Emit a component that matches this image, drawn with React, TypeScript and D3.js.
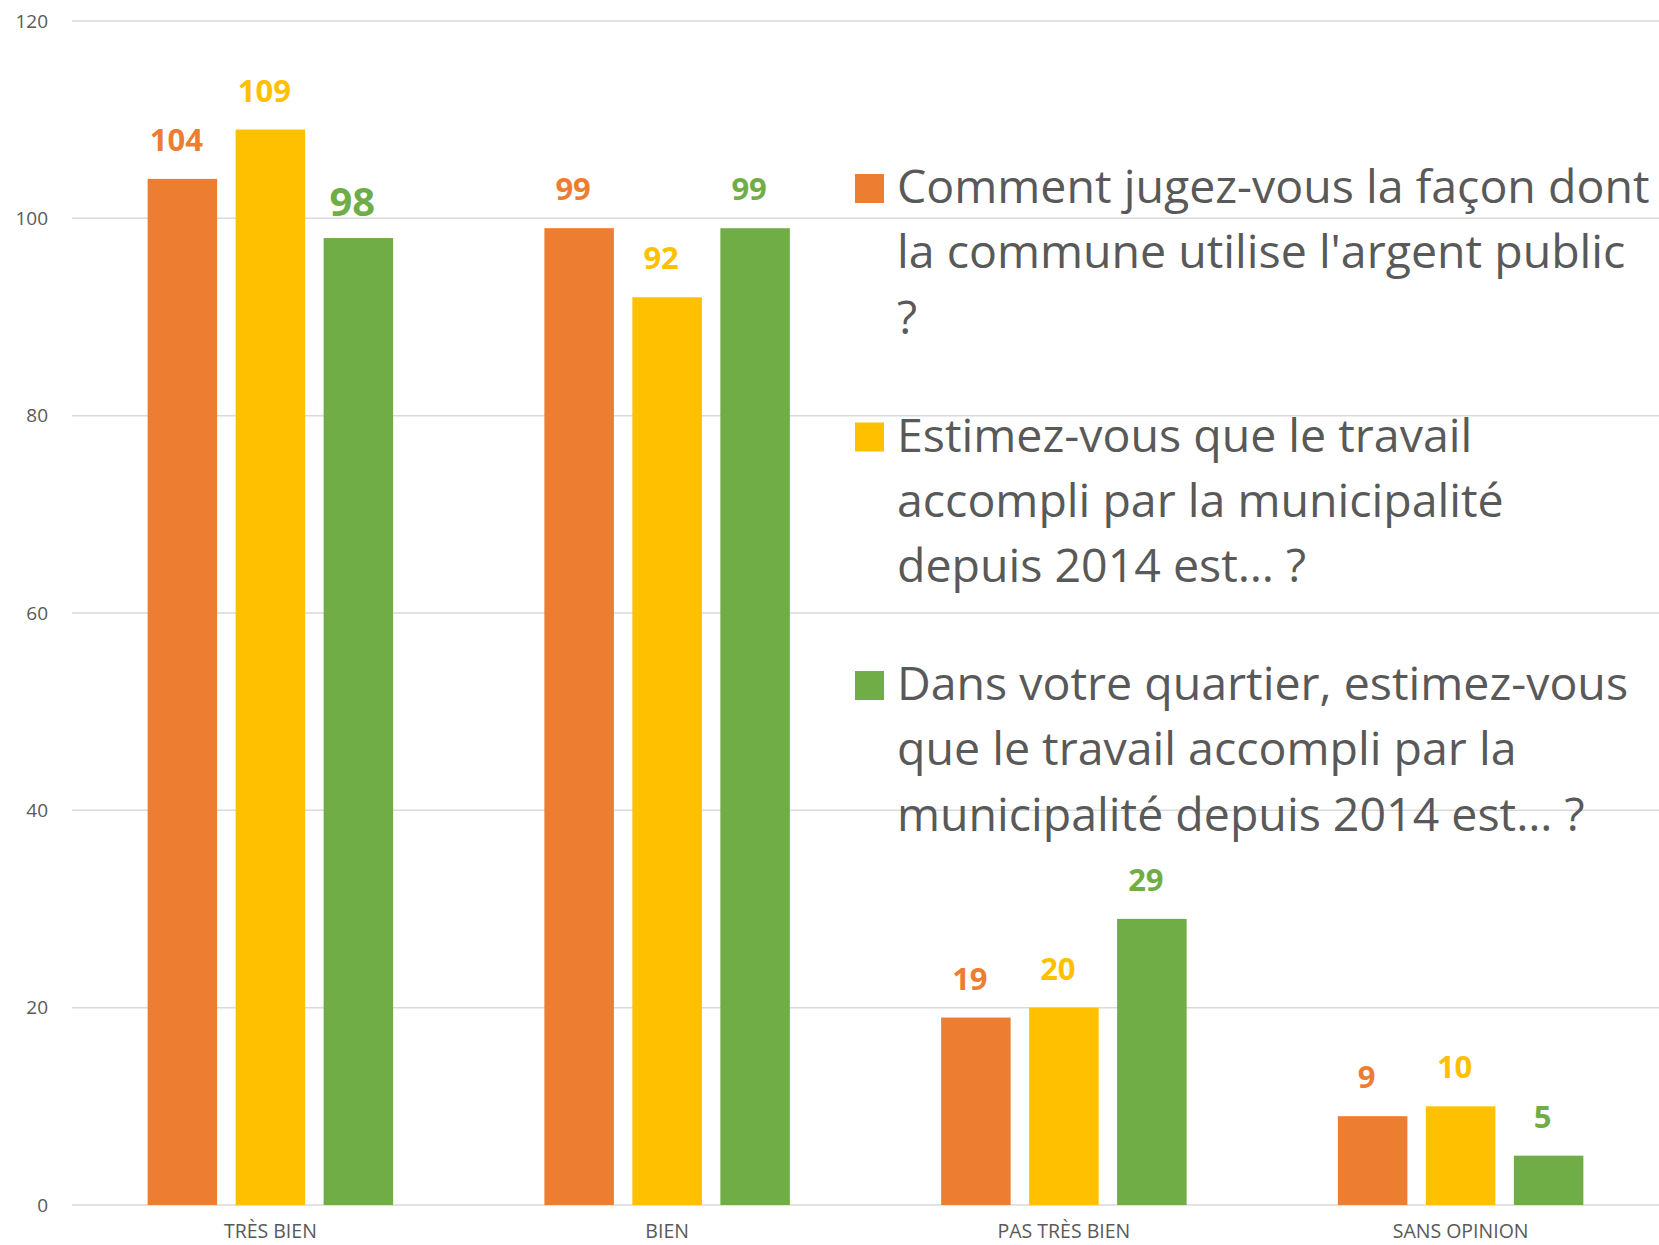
import React from "react";
import * as d3 from "d3";

const categories = ["TRÈS BIEN", "BIEN", "PAS TRÈS BIEN", "SANS OPINION"];
const seriesNames = [
  "Comment jugez-vous la façon dont la commune utilise l'argent public ?",
  "Estimez-vous que le travail accompli par la municipalité depuis 2014 est… ?",
  "Dans votre quartier, estimez-vous que le travail accompli par la municipalité depuis 2014 est… ?",
];
const argentPublic = [104, 99, 19, 9];
const travailMunicipalite = [109, 92, 20, 10];
const travailQuartier = [98, 99, 29, 5];
const yTicks = [0, 20, 40, 60, 80, 100, 120];
const legendLines = [
  ["Comment jugez-vous la façon dont", "la commune utilise l'argent public", "?"],
  ["Estimez-vous que le travail", "accompli par la municipalité", "depuis 2014 est… ?"],
  ["Dans votre quartier, estimez-vous", "que le travail accompli par la", "municipalité depuis 2014 est… ?"],
];

const seriesValues = [argentPublic, travailMunicipalite, travailQuartier];
const colors = ["#ED7D31", "#FFC000", "#70AD47"];

const W = 1659;
const H = 1245;
const FONT = "'Open Sans', 'DejaVu Sans', sans-serif";
const TEXT = "#595959";

export default function App() {
  const plotLeft = 72;
  const plotRight = W;
  const y = d3.scaleLinear().domain([0, 120]).range([1205, 21]);
  const x = d3.scaleBand<string>().domain(categories).range([plotLeft, plotRight]).padding(0);
  const groupWidth = 245.5;
  const xInner = d3
    .scaleBand<number>()
    .domain(d3.range(seriesNames.length))
    .range([0, groupWidth])
    .paddingInner(0.21)
    .paddingOuter(0);

  const legendX = 855;
  const legendTextX = 897;
  const legendFirstBaseline = 203;
  const legendLine = 65.3;
  const legendEntryStep = 248.5;

  return (
    <svg
      width={W}
      height={H}
      style={{ position: "absolute", left: 0, top: 0, background: "#fff" }}
      fontFamily={FONT}
    >
      <rect x={0} y={0} width={W} height={H} fill="#fff" />
      {/* gridlines */}
      {yTicks.map((t) => (
        <line
          key={"g" + t}
          x1={plotLeft}
          x2={plotRight}
          y1={y(t)}
          y2={y(t)}
          stroke="#D9D9D9"
          strokeWidth={1.5}
        />
      ))}
      {/* y tick labels */}
      {yTicks.map((t) => (
        <text
          key={"t" + t}
          x={48}
          y={y(t)}
          dy="0.35em"
          textAnchor="end"
          fontSize={19}
          fill={TEXT}
        >
          {t}
        </text>
      ))}
      {/* bars */}
      {categories.map((c, ci) => {
        const g0 = (x(c) as number) + x.bandwidth() / 2 - groupWidth / 2;
        return seriesValues.map((vals, si) => {
          const bx = g0 + (xInner(si) as number);
          return (
            <rect
              key={`b${ci}-${si}`}
              x={bx}
              y={y(vals[ci])}
              width={xInner.bandwidth()}
              height={y(0) - y(vals[ci])}
              fill={colors[si]}
            />
          );
        });
      })}
      {/* value labels */}
      {categories.map((c, ci) => {
        const g0 = (x(c) as number) + x.bandwidth() / 2 - groupWidth / 2;
        return seriesValues.map((vals, si) => {
          const cx = g0 + (xInner(si) as number) + xInner.bandwidth() / 2 - 6;
          const big = ci === 0 && si === 2;
          return (
            <text
              key={`l${ci}-${si}`}
              x={cx}
              y={y(vals[ci]) - (big ? 22 : 28)}
              textAnchor="middle"
              fontSize={big ? 40 : 31}
              fontWeight="bold"
              fill={colors[si]}
            >
              {vals[ci]}
            </text>
          );
        });
      })}
      {/* x axis labels */}
      {categories.map((c) => (
        <text
          key={"x" + c}
          x={(x(c) as number) + x.bandwidth() / 2}
          y={1238}
          textAnchor="middle"
          fontSize={19.5}
          fill={TEXT}
        >
          {c}
        </text>
      ))}
      {/* legend */}
      {seriesNames.map((name, si) => {
        const base = legendFirstBaseline + si * legendEntryStep;
        return (
          <g key={"lg" + si}>
            <rect x={legendX} y={base - 29} width={29} height={29} fill={colors[si]} />
            <text fontSize={46.5} fill={TEXT}>
              {legendLines[si].map((line, li) => (
                <tspan key={li} x={legendTextX} y={base + li * legendLine}>
                  {line}
                </tspan>
              ))}
            </text>
          </g>
        );
      })}
    </svg>
  );
}
